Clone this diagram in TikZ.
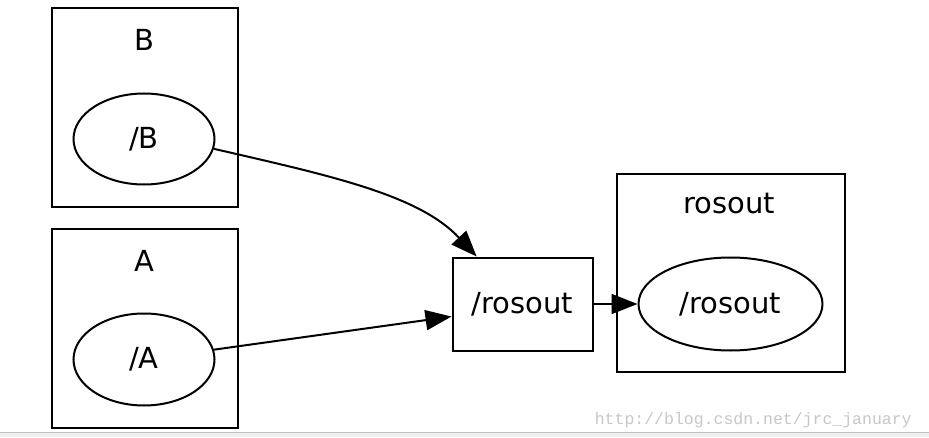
\documentclass[tikz,border=0pt]{standalone}
\usepackage{fontspec}
\setmainfont{DejaVu Sans}
\setmonofont{Liberation Mono}
\usetikzlibrary{positioning, arrows.meta, shapes.geometric}

\begin{document}
\begin{tikzpicture}
[x=1pt,y=1pt,line width=2pt,
                    >={Triangle[length=26pt,width=20pt]},
                    font=\fontsize{29}{31}\selectfont,
                    cluster/.style={draw, rectangle, inner sep=0pt},
                    proc/.style={draw, ellipse, inner sep=0pt},
                    topic/.style={draw, rectangle, minimum width=140pt, minimum height=93pt}]

\useasboundingbox (0,0) rectangle (929,437);

% bottom band and watermark
\fill[black!6] (0,0) rectangle (929,5);
\draw[black!25, line width=1pt] (0,5) -- (929,5);
\node[anchor=base east, text=black!22, font=\ttfamily\fontsize{16.5}{18}\selectfont] (wm) at (916,13) {http://blog.csdn.net/jrc\_january};

% clusters
\node[cluster, minimum width=186pt, minimum height=199pt] (cB) at (144.5,329) {};
\node[cluster, minimum width=186pt, minimum height=198pt] (cA) at (144.5,108.5) {};
\node[cluster, minimum width=228pt, minimum height=197pt] (cR) at (730.5,164) {};

\node[anchor=base] (lB) at (144,386) {B};
\node[anchor=base] (lA) at (144,166) {A};
\node[anchor=base] (lR) at (729,223) {rosout};

% nodes
\node[proc, minimum width=141pt, minimum height=91pt] (eB) at (144,298) {/B};
\node[proc, minimum width=141pt, minimum height=92pt] (eA) at (144,77.5) {/A};
\node[topic] (r) at (522.5,133) {/rosout};
\node[proc, minimum width=184pt, minimum height=93pt] (eR) at (730.5,133) {/rosout};

\draw[->] (eB.-8) .. controls (332,261) and (419,242) .. (r.134);
\path[->]
	(eA.8) edge (r.190)
	(r) edge (eR);
\end{tikzpicture}
\end{document}
